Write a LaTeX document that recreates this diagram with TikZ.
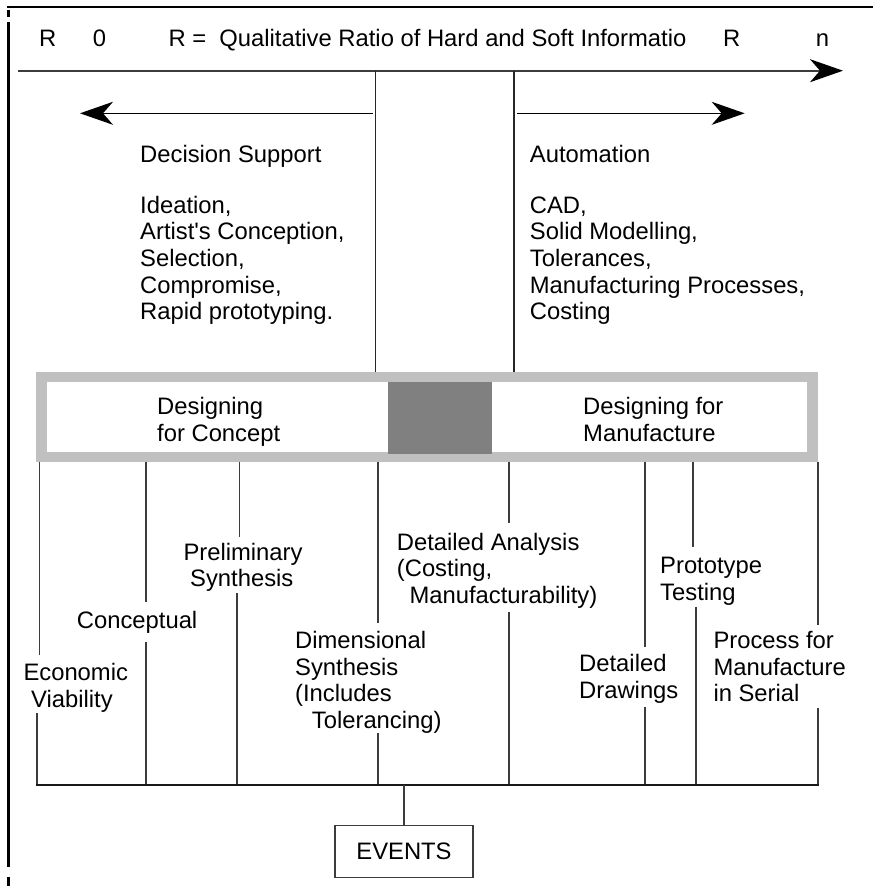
\documentclass[tikz,border=0pt]{standalone}
\usepackage{fontspec}
\setmainfont{Liberation Sans}
\usetikzlibrary{arrows.meta}
\definecolor{frameGray}{HTML}{C0C0C0}
\definecolor{coreGray}{HTML}{808080}
\definecolor{inkGray}{HTML}{3C3C3C}
\begin{document}
\begin{tikzpicture}[x=1pt,y=-1pt,
  % multi-line labels: the base anchor sits on the baseline of the last line
  txt/.style={inner sep=0pt, anchor=base west, align=left,
              font=\fontsize{23.8}{26.7}\selectfont},
  border/.style={line width=2.4pt, draw=black},
  vline/.style={line width=1.3pt, draw=black!85},
  tickline/.style={line width=1.6pt, draw=inkGray},
  bigarrow/.style={-{Stealth[length=33pt,width=23pt,inset=10pt,color=black,fill=black]}},
  eventbox/.style={draw=inkGray, line width=1.3pt, minimum width=138pt,
                   minimum height=52pt, inner sep=0pt,
                   font=\fontsize{23.8}{26.7}\selectfont}
]
\useasboundingbox (0,0) rectangle (873,886);

% page frame: top rule and left rule
\draw[border] (7,7) -- (873,7);
\draw[border] (8.3,10) -- (8.3,17);
\draw[border] (8.3,21.7) -- (8.3,866.7);
\draw[border] (8.3,876.7) -- (8.3,886);

% header
\node[txt] (r0)  at (39,46.7)    {R};
\node[txt] (z0)  at (92.7,46.7)  {0};
\node[txt] (def) at (168.3,46.7) {R =\ \ Qualitative Ratio of Hard and Soft Informatio};
\node[txt] (rn)  at (723,46.7)   {R};
\node[txt] (nn)  at (815.7,46.7) {n};

% ratio axis
\coordinate (axL) at (18,70.7);
\coordinate (axR) at (843,70.7);
\draw[line width=2pt, draw=inkGray, bigarrow] (axL) -- (axR);

% two dividers from the axis down to the band
\coordinate (dA) at (375.7,70.7);
\coordinate (dAb) at (375.7,371.7);
\coordinate (dB) at (514,70.7);
\coordinate (dBb) at (514,371.7);
\draw[vline] (dA) -- (dAb);
\draw[vline] (dB) -- (dBb);

% direction arrows
\coordinate (laS) at (372.7,113.3);
\coordinate (laE) at (80,113.3);
\coordinate (raS) at (517,113.3);
\coordinate (raE) at (744.7,113.3);
\draw[line width=1.3pt, bigarrow] (laS) -- (laE);
\draw[line width=1.3pt, bigarrow] (raS) -- (raE);

% upper texts
\node[txt] (ds) at (140,162) {Decision Support};
\node[txt] (dsl) at (140,319.8) {Ideation,\\Artist\textquotesingle s Conception,\\Selection,\\Compromise,\\Rapid prototyping.};
\node[txt] (au) at (529.7,162) {Automation};
\node[txt] (aul) at (529.7,319.8) {CAD,\\Solid Modelling,\\Tolerances,\\Manufacturing Processes,\\Costing};

% band: designing for concept / for manufacture
\fill[frameGray] (36,371.7) rectangle (818,461.7);
\fill[white] (47.3,382.3) rectangle (807,451.7);
\fill[coreGray] (388.3,382.3) rectangle (492.3,454);
\node[txt] (dfc) at (157,441) {Designing\\for Concept};
\node[txt] (dfm) at (583,441) {Designing for\\Manufacture};

% event ticks: upper part (band to label), lower part (label to base rule)
\draw[tickline] (39.5,461.7) -- (39.5,655);
\draw[tickline] (36.7,713) -- (36.7,785);
\draw[tickline] (146,461.7) -- (146,601.7);
\draw[tickline] (146,641.7) -- (146,785);
\draw[tickline] (239.3,461.7) -- (239.3,537);
\draw[tickline] (236.7,593) -- (236.7,785);
\draw[tickline] (378,461.7) -- (378,623);
\draw[tickline] (378,733) -- (378,785);
\draw[tickline] (509,461.7) -- (509,523);
\draw[tickline] (509,611.7) -- (509,785);
\draw[tickline] (645,461.7) -- (645,646.7);
\draw[tickline] (645,706.7) -- (645,785);
\draw[tickline] (692.7,461.7) -- (692.7,547.3);
\draw[tickline] (695.7,606.7) -- (695.7,785);
\draw[tickline] (817.7,461.7) -- (817.7,625);
\draw[tickline] (817.7,708.3) -- (817.7,785);

% base rule
\coordinate (bL) at (36,785);
\coordinate (bR) at (818.7,785);
\coordinate (bM) at (404,785);
\draw[line width=1.8pt, draw=black!90] (bL) -- (bR);

% event labels
\node[txt] (ev1) at (23.3,707.4) {Economic\\\hspace*{7.7pt}Viability};
\node[txt] (ev2) at (76.7,628.3) {Conceptual};
\node[txt] (ev3) at (183.3,586.7) {Preliminary\\\hspace*{6.7pt}Synthesis};
\node[txt] (ev4) at (295,728.4) {Dimensional\\Synthesis\\(Includes\\\hspace*{16.7pt}Tolerancing)};
\node[txt] (ev5) at (396.7,603.4) {Detailed Analysis\\(Costing,\\\hspace*{12.6pt}Manufacturability)};
\node[txt] (ev6) at (579,698.4) {Detailed\\Drawings};
\node[txt] (ev7) at (660,600) {Prototype\\Testing};
\node[txt] (ev8) at (713.3,701.7) {Process for\\Manufacture\\in Serial};

% events box
\node[eventbox] (events) at (404,851.2) {EVENTS};
\draw[line width=1.5pt, draw=inkGray] (bM) -- (events.north);
\end{tikzpicture}
\end{document}
